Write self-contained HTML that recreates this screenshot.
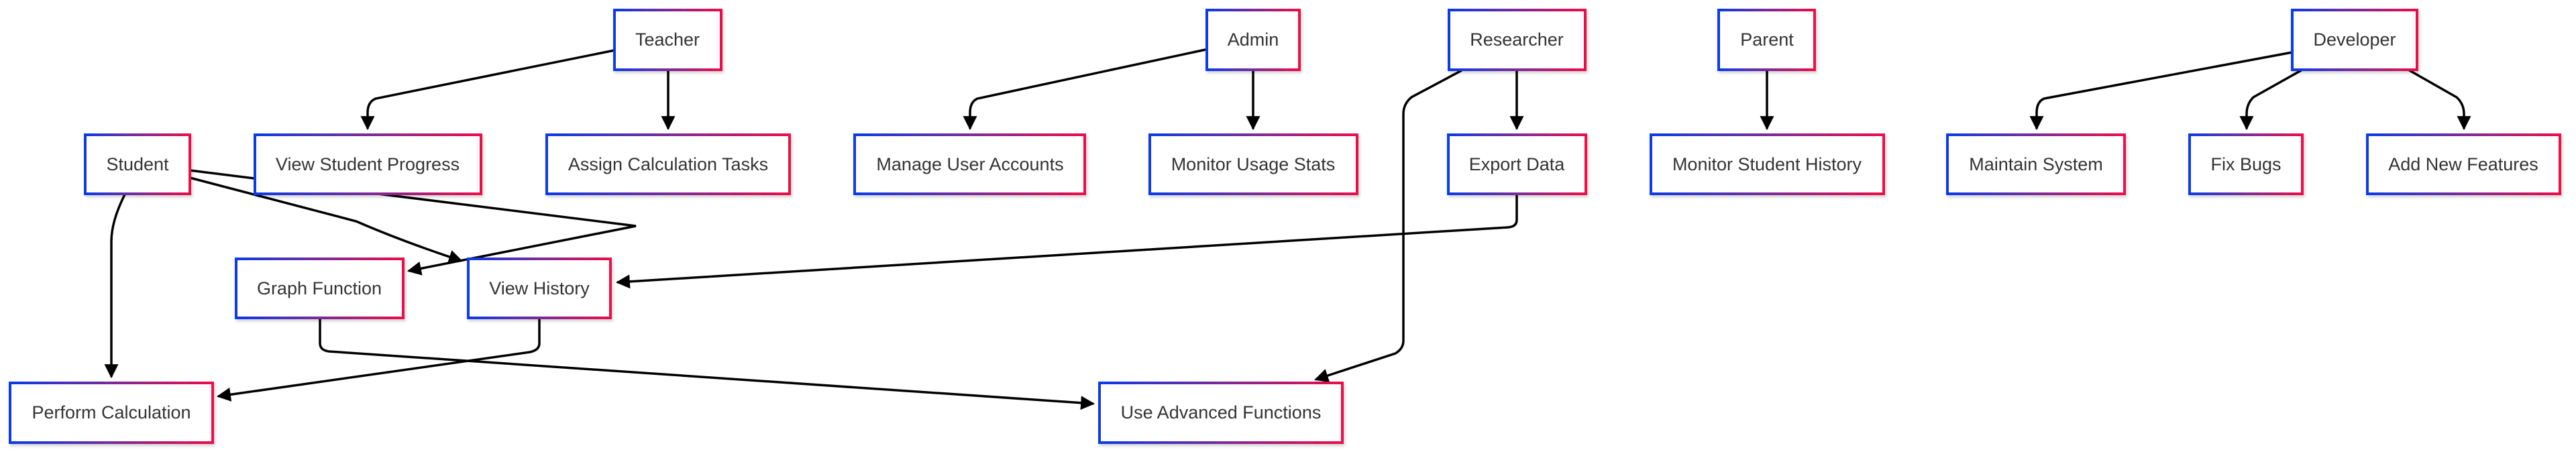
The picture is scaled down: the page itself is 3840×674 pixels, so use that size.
<!DOCTYPE html>
<html><head><meta charset="utf-8"><style>
html,body{margin:0;padding:0;background:#fff;}
svg{display:block;}
text{font-family:"Liberation Sans",Arial,sans-serif;font-size:27px;fill:#333;text-anchor:middle;dominant-baseline:central;}
</style></head><body>
<svg width="3840" height="674" viewBox="0 0 3840 674" xmlns="http://www.w3.org/2000/svg">
<defs>
<linearGradient id="g" x1="0" y1="0" x2="1" y2="0">
<stop offset="0" stop-color="#0a3ae8"/><stop offset="0.5" stop-color="#7a2a9a"/><stop offset="1" stop-color="#ee0a4a"/>
</linearGradient>
<filter id="sh" x="-10%" y="-10%" width="130%" height="140%"><feDropShadow dx="2" dy="3" stdDeviation="2" flood-color="#000" flood-opacity="0.18"/></filter>
<marker id="a" viewBox="0 0 10 10" refX="9" refY="5" markerWidth="6" markerHeight="6" markerUnits="strokeWidth" orient="auto"><path d="M0,0 L10,5 L0,10 z" fill="#000"/></marker>
</defs>
<g fill="none" stroke="#000" stroke-width="3.5" marker-end="url(#a)">
<path d="M916,75 L560,147 Q548,152 548,168 L548,192"/>
<path d="M996,104 L996,192"/>
<path d="M283,254 L948,337 L609,404"/>
<path d="M283,265 L531,330 Q600,360 688,389"/>
<path d="M186,290 Q166,330 166,360 L166,562"/>
<path d="M477,475 L477,512 Q477,522 490,524 L1630,602"/>
<path d="M804,475 L804,512 Q804,522 790,525 L325,591"/>
<path d="M2261,289 L2261,328 Q2261,338 2248,339 L920,421"/>
<path d="M2179,105 L2104,145 Q2092,155 2092,170 L2092,508 Q2092,520 2080,527 L1961,566"/>
<path d="M2261,104 L2261,192"/>
<path d="M1797,74 L1457,147 Q1446,152 1446,168 L1446,192"/>
<path d="M1868,104 L1868,192"/>
<path d="M2634,104 L2634,192"/>
<path d="M3417,78 L3047,147 Q3036,152 3036,168 L3036,192"/>
<path d="M3432,104 L3359,145 Q3349,155 3349,170 L3349,192"/>
<path d="M3590,104 L3662,145 Q3673,155 3673,170 L3673,192"/>
</g>
<g fill="#fff" stroke="url(#g)" stroke-width="4" filter="url(#sh)">
<rect x="916" y="15" width="159" height="89"/>
<rect x="127" y="201" width="156" height="88"/>
<rect x="380" y="201" width="337" height="88"/>
<rect x="815" y="201" width="362" height="88"/>
<rect x="352" y="386" width="249" height="88"/>
<rect x="698" y="386" width="212" height="88"/>
<rect x="15" y="571" width="302" height="89"/>
<rect x="1799" y="15" width="138" height="89"/>
<rect x="2160" y="15" width="203" height="89"/>
<rect x="1274" y="201" width="343" height="88"/>
<rect x="1714" y="201" width="309" height="88"/>
<rect x="2159" y="201" width="205" height="88"/>
<rect x="1639" y="571" width="362" height="89"/>
<rect x="2562" y="15" width="143" height="89"/>
<rect x="2461" y="201" width="347" height="88"/>
<rect x="3417" y="15" width="186" height="89"/>
<rect x="2903" y="201" width="264" height="88"/>
<rect x="3264" y="201" width="168" height="88"/>
<rect x="3529" y="201" width="287" height="88"/>
</g>
<g>
<text x="995" y="59">Teacher</text>
<text x="205" y="245">Student</text>
<text x="548" y="245">View Student Progress</text>
<text x="996" y="245">Assign Calculation Tasks</text>
<text x="476" y="430">Graph Function</text>
<text x="804" y="430">View History</text>
<text x="166" y="615">Perform Calculation</text>
<text x="1868" y="59">Admin</text>
<text x="2261" y="59">Researcher</text>
<text x="1446" y="245">Manage User Accounts</text>
<text x="1868" y="245">Monitor Usage Stats</text>
<text x="2261" y="245">Export Data</text>
<text x="1820" y="615">Use Advanced Functions</text>
<text x="2634" y="59">Parent</text>
<text x="2634" y="245">Monitor Student History</text>
<text x="3510" y="59">Developer</text>
<text x="3035" y="245">Maintain System</text>
<text x="3348" y="245">Fix Bugs</text>
<text x="3672" y="245">Add New Features</text>
</g>
</svg>
</body></html>
